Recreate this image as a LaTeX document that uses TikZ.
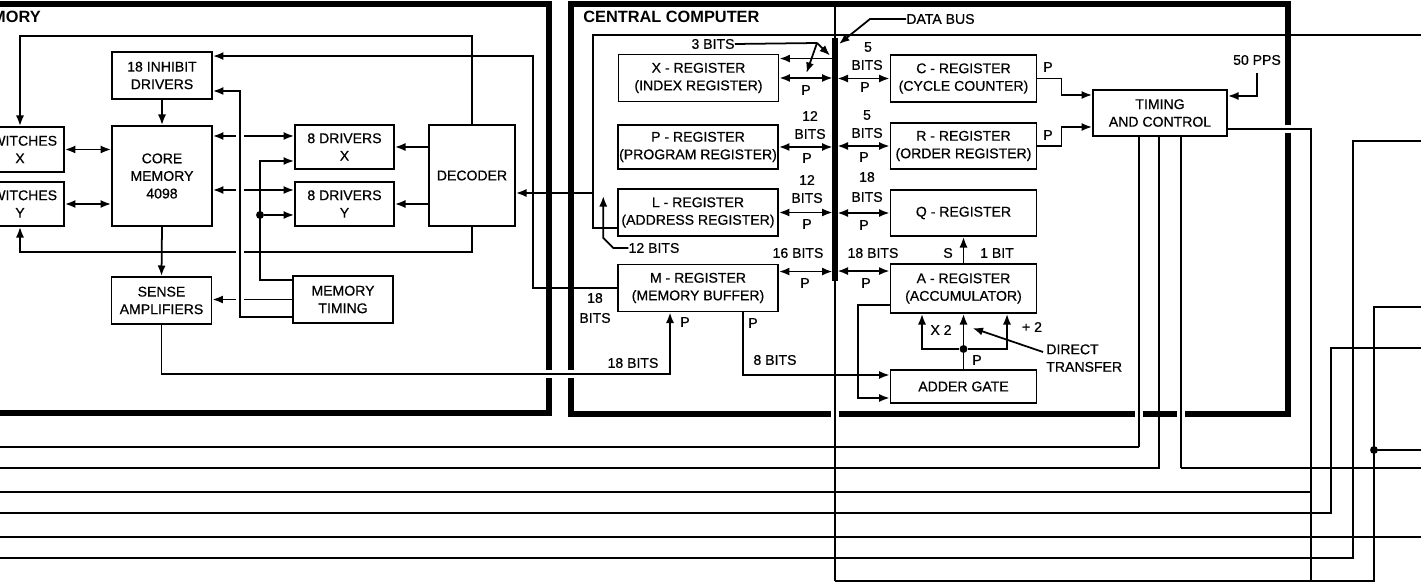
\documentclass[tikz,border=0pt]{standalone}
\usepackage{fontspec}
\setmainfont{Liberation Sans}
\newfontfamily\lblfont{Liberation Sans}[FakeBold=0.6]
\usetikzlibrary{arrows.meta,calc,positioning}

\begin{document}
\begin{tikzpicture}[x=0.02cm,y=-0.02cm,
  box/.style={draw, line width=1.1pt, align=center, inner sep=0pt,
              font=\lblfont\fontsize{8}{10}\selectfont},
  wreg/.style={box, minimum width=3.2cm, minimum height=0.94cm},
  ereg/.style={box, minimum width=2.92cm, minimum height=0.94cm},
  mbox/.style={box, minimum width=2cm, minimum height=0.94cm},
  drv/.style={box, minimum width=1.98cm, minimum height=0.88cm},
  txt/.style={inner sep=0pt, align=center, font=\lblfont\fontsize{8}{10}\selectfont},
  head/.style={inner sep=0pt, font=\fontsize{9.3}{11}\selectfont\bfseries},
  ln/.style={line width=1pt},
  arr/.style={ln, -{Latex[length=6pt,width=4.6pt]}},
  darr/.style={ln, {Latex[length=6pt,width=4.6pt]}-{Latex[length=6pt,width=4.6pt]}},
  frame/.style={line width=3pt},
  hop/.style={preaction={draw=white, arrows=-, line width=5pt,
              shorten <=4pt, shorten >=4pt}},
  dot/.style={circle, fill, inner sep=0pt, minimum size=4.5pt}
]
\useasboundingbox (0,0) rectangle (1421,584);
\clip (0,0) rectangle (1421,584);

% frames
\draw[frame] (-5,4) -| (549,413) -- (-5,413);
\draw[frame] (571,4) rectangle (1288,414);

% memory
\node[head, anchor=base east] (memt) at (41,23) {MEMORY};
\node[mbox] (inh) at (162,75.5) {18 INHIBIT\\DRIVERS};
\node[box, minimum width=2cm, minimum height=2cm] (core) at (162,176) {CORE\\MEMORY\\4098};
\node[box, minimum width=1.76cm, minimum height=0.9cm] (swx) at (20,149.5) {SWITCHES\\X};
\node[box, minimum width=1.76cm, minimum height=0.88cm] (swy) at (20,204) {SWITCHES\\Y};
\node[mbox] (sense) at (161.5,300.5) {SENSE\\AMPLIFIERS};
\node[drv] (drx) at (344.5,147) {8 DRIVERS\\X};
\node[drv] (dry) at (344.5,204) {8 DRIVERS\\Y};
\node[box, minimum width=1.72cm, minimum height=2.02cm] (dec) at (472,175.5) {DECODER};
\node[mbox] (mtim) at (343,299.5) {MEMORY\\TIMING};

% central computer
\node[head, anchor=base west] (cct) at (583,23) {CENTRAL COMPUTER};
\node[wreg] (xreg) at (698.5,78) {X - REGISTER\\(INDEX REGISTER)};
\node[wreg, minimum height=0.88cm] (preg) at (698,147) {P - REGISTER\\(PROGRAM REGISTER)};
\node[wreg] (lreg) at (698,212.5) {L - REGISTER\\(ADDRESS REGISTER)};
\node[wreg] (mreg) at (698,288) {M - REGISTER\\(MEMORY BUFFER)};
\node[ereg] (creg) at (963.5,78.5) {C - REGISTER\\(CYCLE COUNTER)};
\node[ereg, minimum height=0.92cm] (rreg) at (963.5,146) {R - REGISTER\\(ORDER REGISTER)};
\node[ereg, minimum height=0.92cm] (qreg) at (963.5,213) {Q - REGISTER};
\node[ereg, minimum height=0.98cm] (areg) at (963.5,288.5) {A - REGISTER\\(ACCUMULATOR)};
\node[ereg, minimum height=0.66cm] (adder) at (963.5,386.5) {ADDER GATE};
\node[box, minimum width=2.68cm, minimum height=0.92cm] (tim) at (1160,113) {TIMING\\AND CONTROL};

\coordinate (bus) at (835,0);
\coordinate (bushead) at (835,4);
\coordinate (bustop) at (835,38);
\coordinate (busend) at (835,281);
\coordinate (bot) at (0,581);
\coordinate (v1) at (1311,0);
\coordinate (v2) at (1331,0);
\coordinate (v3) at (1353,0);
\coordinate (v4) at (1374,0);
\coordinate (lf1) at (-5,447);
\coordinate (lf2) at (-5,468);
\coordinate (lf3) at (-5,492);
\coordinate (lf4) at (-5,513);
\coordinate (lf5) at (-5,537);
\coordinate (lf6) at (-5,558);
\coordinate (rt1) at (1430,35);
\coordinate (rt2) at (1430,468);
\coordinate (rt3) at (1430,141);
\coordinate (rt4) at (1430,348);
\coordinate (rt5) at (1430,307);
\coordinate (rt6) at (1430,450);
\coordinate (rt7) at (1430,537);

% lines that cut the frames
\coordinate (sb) at (0,374);
\coordinate (mb) at ($(mreg.south)+(-28,0)$);
\draw[arr, hop] (sense.south) |- (mb |- sb) -- (mb);
\draw[ln, hop] (busend) -- (busend |- bot);
\coordinate (to1) at ($(tim.south)+(-21,0)$);
\coordinate (to2) at ($(tim.south)+(-1,0)$);
\coordinate (to3) at ($(tim.south)+(21,0)$);
\coordinate (tout) at ($(tim.east)+(0,16)$);
\draw[ln, hop] (to1) -- (to1 |- lf1);
\draw[ln, hop] (to3) -- (to3 |- rt2);
\draw[ln, hop] (tout) -| (v1 |- bot);

% data bus
\draw[line width=0.6pt] (bushead) -- (bustop);
\draw[line width=3pt] (bustop) -- (busend);

\coordinate (xin) at ($(xreg.north east)+(0,5)$);
\coordinate (min) at ($(mreg.north east)+(0,8)$);
\coordinate (ain) at ($(areg.north west)+(0,8)$);
\draw[darr, shorten >=1.4pt] (xreg.east) -- (xreg.east -| bus);
\draw[arr, shorten <=1.4pt] (xin -| bus) -- (xin);
\draw[darr, shorten >=1.4pt] (preg.east) -- (preg.east -| bus);
\draw[darr, shorten >=1.4pt] (lreg.east) -- (lreg.east -| bus);
\draw[darr, shorten >=1.4pt] (min) -- (min -| bus);
\draw[darr, shorten >=1.4pt] (creg.west) -- (creg.west -| bus);
\draw[darr, shorten >=1.4pt] (rreg.west) -- (rreg.west -| bus);
\draw[darr, shorten >=1.4pt] (qreg.west) -- (qreg.west -| bus);
\draw[darr, shorten >=1.4pt] (ain) -- (ain -| bus);

% bus labels
\node[txt] (px) at (806,90) {P};
\node[txt] (n12a) at (810,116) {12};
\node[txt] (bta) at (810,134) {BITS};
\node[txt] (pp) at (807,158) {P};
\node[txt] (n12b) at (807,180) {12};
\node[txt] (btb) at (807,198) {BITS};
\node[txt] (pl) at (807,224) {P};
\node[txt] (b16) at (798,253) {16 BITS};
\node[txt] (pm) at (805,283) {P};
\node[txt] (n5a) at (868,47) {5};
\node[txt] (btc) at (867,65) {BITS};
\node[txt] (pc) at (865,87) {P};
\node[txt] (n5b) at (867,115) {5};
\node[txt] (btr) at (867,133) {BITS};
\node[txt] (pr) at (864,157) {P};
\node[txt] (n18q) at (867,177) {18};
\node[txt] (btq) at (867,197) {BITS};
\node[txt] (pq) at (864,225) {P};
\node[txt] (b18a) at (873,253) {18 BITS};
\node[txt] (pa) at (866,283) {P};

% leaders
\node[txt, anchor=west] (dbl) at (906,19) {DATA BUS};
\draw[arr] (dbl.west) -- ++(-36,0) -- ($(bustop)+(4,6)$);
\node[txt] (b3) at (713,44) {3 BITS};
\coordinate (b3j) at (817,43);
\draw[ln] (b3.east) -- (b3j);
\draw[arr] (b3j) -- ($(xin -| bus)+(-5,-3)$);
\draw[arr] (b3j) -- ($(xreg.east)+(27,-5)$);

% timing and control
\coordinate (tin1) at ($(tim.west)+(0,-18)$);
\coordinate (tin2) at ($(tim.west)+(0,14)$);
\coordinate (tin3) at ($(tim.east)+(0,-17)$);
\draw[arr] (creg.east) -- ++(24,0) |- (tin1);
\draw[arr] (rreg.east) -- ++(24,0) |- (tin2);
\node[txt] (pco) at (1048,67) {P};
\node[txt] (pro) at (1048,135) {P};
\node[txt] (pps) at (1257,60) {50 PPS};
\draw[arr] ($(pps.south)+(0,8)$) |- (tin3);

% accumulator and adder
\coordinate (aout) at ($(areg.west)+(0,16.5)$);
\coordinate (gin1) at ($(adder.west)+(0,-11.5)$);
\coordinate (gin2) at ($(adder.west)+(0,11.5)$);
\coordinate (fx) at (858,0);
\coordinate (mout) at ($(mreg.south)+(45,0)$);
\coordinate (jy) at (0,349);
\draw[arr] (aout) -| (fx |- gin2) -- (gin2);
\draw[arr] (mout) |- (gin1);
\node[dot] (jn) at (adder.north |- jy) {};
\draw[ln] (adder.north) -- (jn);
\draw[arr] (jn) -- (jn |- areg.south);
\draw[arr] (jn) -| ($(areg.south)+(-41.5,0)$);
\draw[arr] (jn) -| ($(areg.south)+(43.5,0)$);
\draw[arr] (areg.north) -- (qreg.south);
\node[txt] (sl) at (948,253) {S};
\node[txt] (bit1) at (997,253) {1 BIT};
\node[txt] (x2) at (941,330) {X 2};
\node[txt] (d2) at (1032,327) {+ 2};
\node[txt] (pg) at (977,360) {P};
\node[txt, align=left, anchor=north west] (dtr) at (1046,344) {DIRECT\\TRANSFER};
\draw[arr] ($(dtr.north west)+(-3,8)$) -- ($(jn)+(9,-21)$);

% M register
\node[txt] (n18m) at (595,298) {18};
\node[txt] (btm) at (595,318) {BITS};
\node[txt] (b18s) at (633,363) {18 BITS};
\node[txt] (pms) at (685,322) {P};
\node[txt] (pmo) at (753,323) {P};
\node[txt] (b8) at (775,360) {8 BITS};
\coordinate (ix) at (533,0);
\coordinate (ih2) at ($(inh.north east)+(0,5)$);
\draw[arr] (mreg.west) -| (ix |- ih2) -- (ih2);

% L register to decoder and out
\coordinate (lw) at ($(lreg.west)+(0,15.5)$);
\coordinate (lx) at (593,0);
\coordinate (dl) at ($(dec.east)+(0,17.5)$);
\draw[ln] (lw) -| (lx |- rt1) -- (rt1);
\draw[arr] (lx |- dl) -- (dl);
\node[txt] (b12) at (654,248) {12 BITS};
\draw[arr] (b12.west) -- ++(-15,0) -- ++(-10,-10) -- ++(0,-42);

% lines at the bottom
\draw[ln] (to1 |- lf1) -- (lf1);
\draw[ln] (to2) |- (lf2);
\draw[ln] (to3 |- rt2) -- (rt2);
\draw[ln] (lf3) -- (v1 |- lf3);
\draw[ln] (rt4) -| (v2 |- lf4) -- (lf4);
\draw[ln] (lf5) -- (rt7);
\draw[ln] (rt3) -| (v3 |- lf6) -- (lf6);
\draw[ln] (busend |- bot) -| (v4 |- rt5) -- (rt5);
\node[dot] (j2) at (v4 |- rt6) {};
\draw[ln] (j2) -- (rt6);

% memory connectors
\coordinate (top) at (0,36);
\coordinate (low) at (0,252);
\draw[arr] (dec.north) -- (dec.north |- top) -| (swx.north);
\draw[arr] (dec.south) -- (dec.south |- low) -| (swy.south);
\draw[arr] (dec.west |- drx.east) -- (drx.east);
\draw[arr] (dec.west |- dry.east) -- (dry.east);
\draw[darr] (swx.east) -- (swx.east -| core.west);
\draw[darr] (swy.east) -- (swy.east -| core.west);
\draw[arr] (inh.south) -- (core.north);
\draw[arr] (core.south) -- (sense.north);
\coordinate (dx1) at ($(drx.west)+(0,-11)$);
\coordinate (dx2) at ($(drx.west)+(0,14)$);
\coordinate (dy1) at ($(dry.west)+(0,-14)$);
\coordinate (dy2) at ($(dry.west)+(0,11)$);
\draw[darr] (dx1 -| core.east) -- (dx1);
\draw[darr] (dy1 -| core.east) -- (dy1);
\coordinate (tx) at (260,0);
\coordinate (mt1) at ($(mtim.west)+(0,-19.5)$);
\coordinate (mt3) at ($(mtim.west)+(0,17.5)$);
\draw[arr] (mt1) -| (tx |- dx2) -- (dx2);
\node[dot] (j1) at (tx |- dy2) {};
\draw[arr] (j1) -- (dy2);
\draw[arr] (mtim.west) -- (mtim.west -| sense.east);
\coordinate (vx) at (240,0);
\coordinate (ih1) at ($(inh.east)+(0,15.5)$);
\draw[arr, hop] (mt3) -| (vx |- ih1) -- (ih1);
\end{tikzpicture}
\end{document}
